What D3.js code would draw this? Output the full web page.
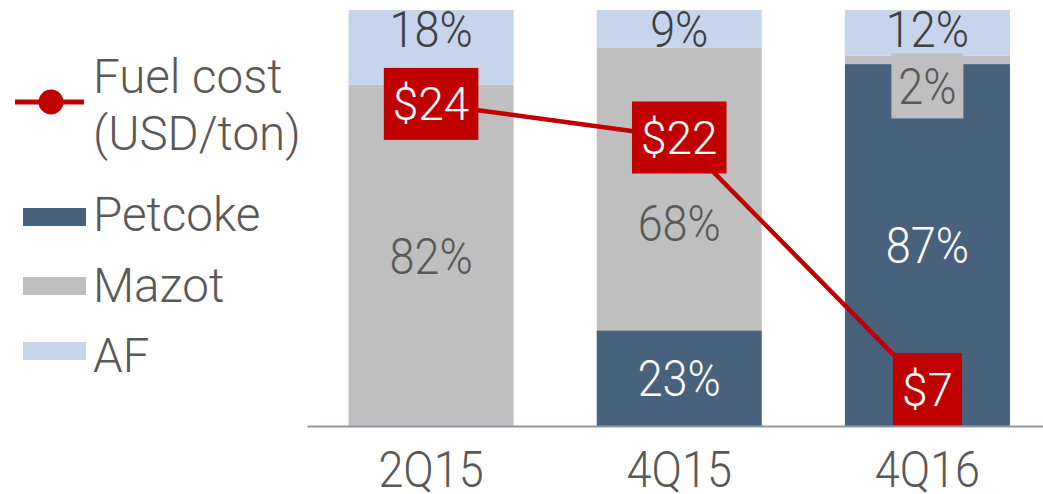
<!DOCTYPE html>
<html>
<head>
<meta charset="utf-8">
<script src="https://cdn.jsdelivr.net/npm/d3@7"></script>
<style>
  body { margin: 0; background: #fff; }
  svg { display: block; font-family: Roboto, "Noto Sans", sans-serif; font-weight: 300; }
</style>
</head>
<body>
<svg id="chart" width="1043" height="494"></svg>
<script>
// data
const periods = ["2Q15", "4Q15", "4Q16"];
const petcoke = [0, 23, 87];
const mazot = [82, 68, 2];
const af = [18, 9, 12];
const fuelCost = [24, 22, 7];
const seriesNames = ["Petcoke", "Mazot", "AF"];

const colors = { Petcoke: "#48627d", Mazot: "#bfbfbf", AF: "#c6d5ec" };
const red = "#c00000";
const textGray = "#595959";

const svg = d3.select("#chart");
const baseY = 426, topY = 10;
const stretch = 1.12; // labels on the slide are a bit taller than wide

// build rows for d3.stack
let rows = periods.map(function (p, i) {
  return { period: p, Petcoke: petcoke[i], Mazot: mazot[i], AF: af[i] };
});
let stacked = d3.stack().keys(seriesNames)(rows);

let x = d3.scaleBand().domain(periods).range([307, 1051.5])
  .paddingInner(0.335).paddingOuter(0.1675);
let y = d3.scaleLinear().domain([0, 100]).range([baseY, topY]).clamp(true);
// secondary scale for the fuel cost line
let yCost = d3.scaleLinear().domain([4.8, 29.6]).range([baseY, topY]);

// bars
stacked.forEach(function (s) {
  svg.append("g").selectAll("rect")
    .data(s)
    .enter().append("rect")
    .attr("x", function (d) { return x(d.data.period); })
    .attr("width", x.bandwidth())
    .attr("y", function (d) { return y(d[1]); })
    .attr("height", function (d) { return y(d[0]) - y(d[1]); })
    .attr("fill", colors[s.key]);
});

// segment labels
function stretchedText(g, cx, cy, txt, fill) {
  return g.append("text")
    .attr("transform", "translate(" + cx + "," + cy + ") scale(1," + stretch + ")")
    .attr("text-anchor", "middle")
    .attr("dy", "0.36em")
    .attr("font-size", 45)
    .attr("fill", fill)
    .text(txt);
}

let labelG = svg.append("g");
stacked.forEach(function (s) {
  s.forEach(function (d, i) {
    let v = d[1] - d[0];
    if (v <= 0) return;
    let cx = x(d.data.period) + x.bandwidth() / 2;
    let top = y(d[1]), bot = y(d[0]);
    let cy = (top + bot) / 2;
    let fill = s.key === "Petcoke" ? "#ffffff" : (s.key === "AF" ? "#404040" : textGray);
    if (s.key === "AF") cy = top + 19;
    if (s.key === "Mazot" && d.data.period === "4Q15") cy += 34;
    if (bot - top < 30) {
      // thin segment: label sits on its own patch
      cy += 26;
      labelG.append("rect")
        .attr("x", cx - 36).attr("y", cy - 32.5)
        .attr("width", 72).attr("height", 65)
        .attr("fill", colors[s.key]);
    }
    stretchedText(labelG, cx, cy, v + "%", fill);
  });
});

// x axis
let axis = svg.append("g")
  .attr("transform", "translate(0," + baseY + ")")
  .call(d3.axisBottom(x).tickSize(0).tickPadding(0));
axis.select(".domain").attr("stroke", "#8d97a9").attr("stroke-width", 2);
axis.selectAll(".tick text").remove();
axis.selectAll(".tick").each(function (p) {
  d3.select(this).append("text")
    .attr("transform", "translate(0,61) scale(1," + stretch + ")")
    .attr("text-anchor", "middle")
    .attr("font-size", 45)
    .attr("font-family", "Roboto, 'Noto Sans', sans-serif")
    .attr("fill", textGray)
    .text(p);
});

// fuel cost line
let costPts = periods.map(function (p, i) { return { period: p, v: fuelCost[i] }; });
let line = d3.line()
  .x(function (d) { return x(d.period) + x.bandwidth() / 2; })
  .y(function (d) { return yCost(d.v); });
svg.append("path")
  .datum(costPts)
  .attr("d", line)
  .attr("fill", "none")
  .attr("stroke", red)
  .attr("stroke-width", 4.5);

// value boxes
costPts.forEach(function (d) {
  let g = svg.append("g")
    .attr("transform", "translate(" + (x(d.period) + x.bandwidth() / 2) + "," + yCost(d.v) + ")");
  let t = g.append("text")
    .attr("text-anchor", "middle")
    .attr("dy", "0.36em")
    .attr("font-size", 46)
    .attr("fill", "#ffffff")
    .text("$" + d.v);
  let w = t.node().getComputedTextLength() + 18;
  g.insert("rect", "text")
    .attr("x", -w / 2).attr("y", -36)
    .attr("width", w).attr("height", 72)
    .attr("fill", red);
});

// legend
let leg = svg.append("g").attr("font-size", 47.5).attr("fill", textGray);
leg.append("line")
  .attr("x1", 15).attr("x2", 84).attr("y1", 102).attr("y2", 102)
  .attr("stroke", red).attr("stroke-width", 5);
leg.append("circle").attr("cx", 51).attr("cy", 102).attr("r", 12.5).attr("fill", red);
leg.append("text").attr("x", 93).attr("y", 93).text("Fuel cost");
leg.append("text").attr("x", 93).attr("y", 150).text("(USD/ton)");

let legendRows = [
  { name: "Petcoke", y: 208, base: 231 },
  { name: "Mazot", y: 277, base: 302 },
  { name: "AF", y: 342, base: 372 }
];
legendRows.forEach(function (r) {
  leg.append("rect").attr("x", 23).attr("y", r.y).attr("width", 63).attr("height", 18)
    .attr("fill", colors[r.name]);
  leg.append("text").attr("x", 93).attr("y", r.base).text(r.name);
});
</script>
</body>
</html>
